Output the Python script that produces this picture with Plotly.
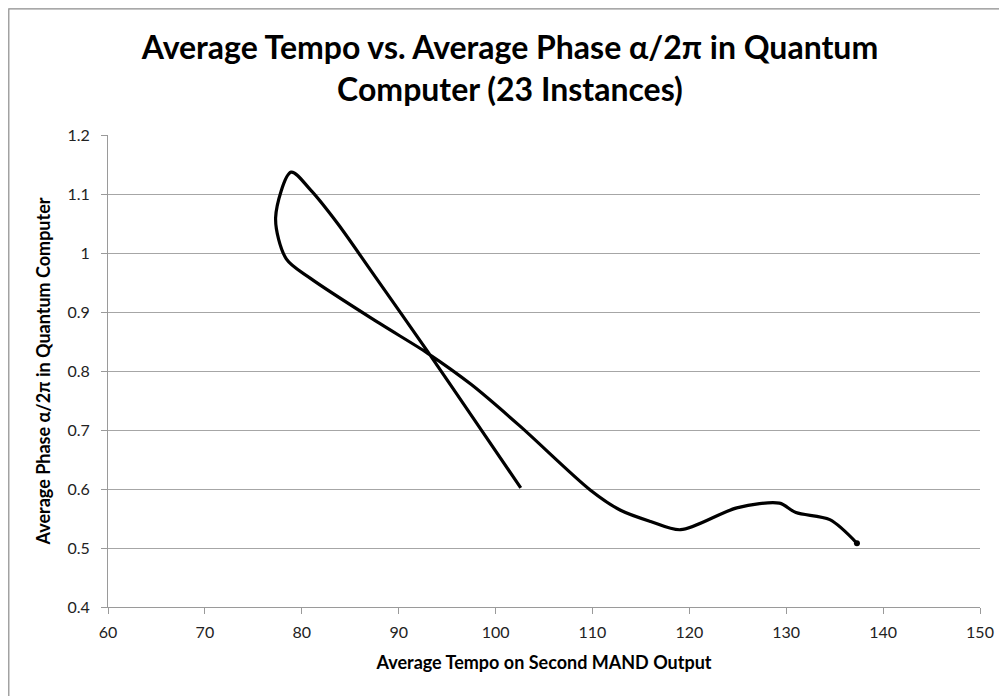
import plotly.graph_objects as go

tempo = [102.6, 97.8, 93.0, 87.1, 83.7, 80.9, 78.9, 77.3, 78.4, 80.9, 88.0, 93.0,
         97.5, 102.5, 109.8, 112.9, 116.0, 119.1, 124.9, 129.3, 131.0, 134.5, 137.3]
phase = [0.602, 0.7175, 0.833, 0.971, 1.050, 1.107, 1.137, 1.060, 0.990, 0.957, 0.881, 0.830,
         0.777, 0.707, 0.598, 0.564, 0.545, 0.531, 0.568, 0.576, 0.560, 0.548, 0.508]

x_ticks = list(range(60, 151, 10))
y_ticks = [0.4, 0.5, 0.6, 0.7, 0.8, 0.9, 1.0, 1.1, 1.2]
y_labels = ["0.4", "0.5", "0.6", "0.7", "0.8", "0.9", "1", "1.1", "1.2"]

title = "Average Tempo vs. Average Phase \u03b1/2\u03c0 in Quantum<br>Computer (23 Instances)"
x_title = "Average Tempo on Second MAND Output"
y_title = "Average Phase \u03b1/2\u03c0 in Quantum Computer"

fig = go.Figure()
fig.add_trace(go.Scatter(
    x=tempo, y=phase, mode="lines",
    line=dict(color="black", width=3.2, shape="spline", smoothing=0.85),
    showlegend=False, hoverinfo="x+y",
))
fig.add_trace(go.Scatter(
    x=tempo[-1:], y=phase[-1:], mode="markers",
    marker=dict(color="black", size=6),
    showlegend=False,
))

# page has an 8px body margin, so the figure is sized to fit the window
W, H = 999, 688
L, R, T, B = 100, 27, 127, 89
pw, ph = W - L - R, H - T - B

fig.update_layout(
    width=W, height=H,
    margin=dict(l=L, r=R, t=T, b=B),
    paper_bgcolor="white", plot_bgcolor="white",
    font=dict(family="Lato", color="#222222"),
    title=dict(text=title, x=0.5025, xanchor="center", y=1 - 51 / H, yanchor="middle",
               font=dict(family="Lato", size=32, color="black", weight="bold")),
    xaxis=dict(range=[60, 150], tickvals=x_ticks, showgrid=False, zeroline=False,
               showline=True, linecolor="#9a9a9a", linewidth=1,
               ticks="outside", ticklen=6, tickcolor="#9a9a9a",
               ticklabelstandoff=5,
               tickfont=dict(size=16, family="Lato", color="#222222"),
               title=dict(text=x_title, standoff=16,
                          font=dict(size=18, family="Lato", color="black", weight="bold"))),
    yaxis=dict(range=[0.4, 1.2], tickvals=y_ticks, ticktext=y_labels,
               showgrid=True, gridcolor="#a6a6a6", gridwidth=1, zeroline=False,
               showline=True, linecolor="#9a9a9a", linewidth=1,
               ticks="outside", ticklen=6, tickcolor="#9a9a9a",
               ticklabelstandoff=8,
               tickfont=dict(size=16, family="Lato", color="#222222"),
               title=dict(text=y_title, standoff=12,
                          font=dict(size=18, family="Lato", color="black", weight="bold"))),
)

# outer chart frame (left and top edges visible)
fx0 = (0.8 - L) / pw
fy1 = (H - B - 0.8) / ph
fig.add_shape(type="rect", xref="paper", yref="paper",
              x0=fx0, x1=1.3, y0=-0.5, y1=fy1,
              line=dict(color="#8c8c8c", width=1.2), layer="below")

fig.write_html("out.html")
